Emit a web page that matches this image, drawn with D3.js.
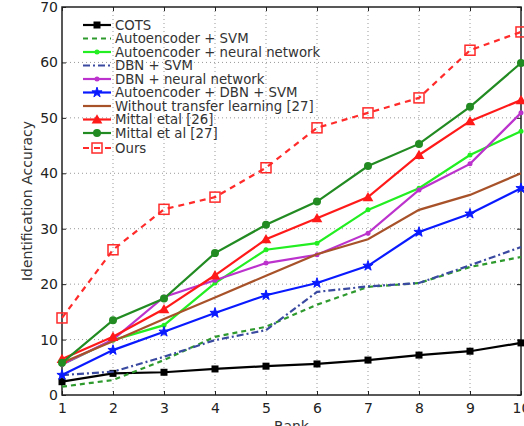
<!DOCTYPE html>
<html><head><meta charset="utf-8">
<script src="https://cdn.jsdelivr.net/npm/d3@7"></script>
<style>body{margin:0;background:#fff;} svg{display:block;font-family:"DejaVu Sans",sans-serif;}</style>
</head><body>
<svg id="c" width="524" height="426"></svg>
<script>
const ranks = [1,2,3,4,5,6,7,8,9,10];
const yTicks = [0,10,20,30,40,50,60,70];
const cots        = [2.4,3.9,4.1,4.7,5.2,5.6,6.3,7.2,7.9,9.4];
const aeSvm       = [1.5,2.7,6.3,10.5,12.3,16.3,19.5,20.2,23.1,24.9];
const aeNn        = [5.5,9.9,12.6,20.2,26.2,27.4,33.4,37.3,43.3,47.6];
const dbnSvm      = [3.6,4.2,6.9,9.9,11.7,18.6,19.6,20.2,23.4,26.7];
const dbnNn       = [5.5,10.0,17.7,20.7,23.8,25.3,29.2,37.0,41.7,50.9];
const aeDbnSvm    = [3.6,8.1,11.4,14.8,18.0,20.2,23.3,29.4,32.7,37.3];
const withoutTL   = [5.8,9.7,13.7,17.6,21.5,25.4,28.1,33.4,36.1,40.0];
const mittal26    = [6.5,10.5,15.5,21.6,28.1,31.9,35.7,43.3,49.4,53.2];
const mittal27    = [5.8,13.5,17.4,25.6,30.7,34.9,41.3,45.3,52.0,59.9];
const ours        = [13.9,26.2,33.5,35.7,41.0,48.2,50.9,53.6,62.2,65.5];

const series = [
  {name:"COTS", values:cots, color:"#000000", dash:null, marker:"square"},
  {name:"Autoencoder + SVM", values:aeSvm, color:"#2e9a2e", dash:"5,4", marker:null},
  {name:"Autoencoder + neural network", values:aeNn, color:"#22ee22", dash:null, marker:"dot"},
  {name:"DBN + SVM", values:dbnSvm, color:"#3a4aa0", dash:"7,3,2,3", marker:null},
  {name:"DBN + neural network", values:dbnNn, color:"#bb33cc", dash:null, marker:"dot"},
  {name:"Autoencoder + DBN + SVM", values:aeDbnSvm, color:"#0a1aff", dash:null, marker:"star"},
  {name:"Without transfer learning [27]", values:withoutTL, color:"#a8522a", dash:null, marker:null},
  {name:"Mittal etal [26]", values:mittal26, color:"#ff1a1a", dash:null, marker:"triangle"},
  {name:"Mittal et al [27]", values:mittal27, color:"#228b22", dash:null, marker:"circle"},
  {name:"Ours", values:ours, color:"#ff2a2a", dash:"6,5", marker:"opensquare"}
];

const svg = d3.select("#c");
const L=62, R=521, T=7, B=395;
const x = d3.scaleLinear().domain([1,10]).range([L,R]);
const y = d3.scaleLinear().domain([0,70]).range([B,T]);

// grid
const g = svg.append("g");
g.selectAll(".gx").data(ranks.slice(1,-1)).enter().append("line")
  .attr("x1",d=>x(d)).attr("x2",d=>x(d)).attr("y1",T).attr("y2",B)
  .attr("stroke","#999").attr("stroke-width",1).attr("stroke-dasharray","1,3");
g.selectAll(".gy").data(yTicks.slice(1,-1)).enter().append("line")
  .attr("x1",L).attr("x2",R).attr("y1",d=>y(d)).attr("y2",d=>y(d))
  .attr("stroke","#999").attr("stroke-width",1).attr("stroke-dasharray","1,3");

// axes
const xAxis = d3.axisBottom(x).tickValues(ranks).tickSize(-4).tickPadding(8).tickFormat(d3.format("d"));
const yAxis = d3.axisLeft(y).tickValues(yTicks).tickSize(-4).tickPadding(4);
const xa = svg.append("g").attr("transform",`translate(0,${B})`).call(xAxis);
const ya = svg.append("g").attr("transform",`translate(${L},0)`).call(yAxis);
const xt = svg.append("g").attr("transform",`translate(0,${T})`).call(d3.axisTop(x).tickValues(ranks).tickSize(-4).tickFormat(""));
const yr = svg.append("g").attr("transform",`translate(${R},0)`).call(d3.axisRight(y).tickValues(yTicks).tickSize(-4).tickFormat(""));
[xa,ya,xt,yr].forEach(a=>{
  a.select(".domain").remove();
  a.selectAll("line").attr("stroke","#222");
  a.selectAll("text").attr("font-family","DejaVu Sans, sans-serif").attr("font-size",14).attr("fill","#222");
});
svg.append("rect").attr("x",L).attr("y",T).attr("width",R-L).attr("height",B-T)
  .attr("fill","none").attr("stroke","#222").attr("stroke-width",1.5);

svg.append("text").attr("transform",`translate(32,${(T+B)/2}) rotate(-90)`)
  .attr("text-anchor","middle").attr("font-size",14).attr("fill","#333").text("Identification Accuracy");
svg.append("text").attr("x",(L+R)/2).attr("y",431).attr("text-anchor","middle")
  .attr("font-size",14).attr("fill","#333").text("Rank");

const line = d3.line().x((d,i)=>x(ranks[i])).y(d=>y(d));
const star = d3.symbol().type(d3.symbolStar).size(32);
const tri = d3.symbol().type(d3.symbolTriangle).size(50);

function drawMarker(sel, m, color){
  if(m==="square") sel.append("rect").attr("x",-3.5).attr("y",-3.5).attr("width",7).attr("height",7).attr("fill",color);
  else if(m==="opensquare") sel.append("rect").attr("x",-5).attr("y",-5).attr("width",10).attr("height",10).attr("fill","none").attr("stroke",color).attr("stroke-width",1.5);
  else if(m==="dot") sel.append("circle").attr("r",2.5).attr("fill",color);
  else if(m==="circle") sel.append("circle").attr("r",4).attr("fill",color);
  else if(m==="star") sel.append("path").attr("d",star).attr("fill",color).attr("stroke",color).attr("stroke-width",1);
  else if(m==="triangle") sel.append("path").attr("d",tri).attr("fill",color).attr("transform","translate(0,1)");
}

series.forEach(s=>{
  svg.append("path").datum(s.values).attr("d",line).attr("fill","none")
    .attr("stroke",s.color).attr("stroke-width",2.2)
    .attr("stroke-dasharray",s.dash);
  if(s.marker){
    s.values.forEach((v,i)=>{
      const mg = svg.append("g").attr("transform",`translate(${x(ranks[i])},${y(v)})`);
      drawMarker(mg,s.marker,s.color);
    });
  }
});

// legend
const lg = svg.append("g");
series.forEach((s,i)=>{
  const yy = 25 + i*13.5 + (i===9?1.5:0);
  lg.append("line").attr("x1",83).attr("x2",111).attr("y1",yy).attr("y2",yy)
    .attr("stroke",s.color).attr("stroke-width",2.2).attr("stroke-dasharray",s.dash);
  if(s.marker){
    const mg = lg.append("g").attr("transform",`translate(97,${yy})`);
    drawMarker(mg,s.marker,s.color);
  }
  lg.append("text").attr("x",115).attr("y",yy+4.7).attr("font-size",13.3).attr("fill","#333").text(s.name);
});
</script>
</body></html>
